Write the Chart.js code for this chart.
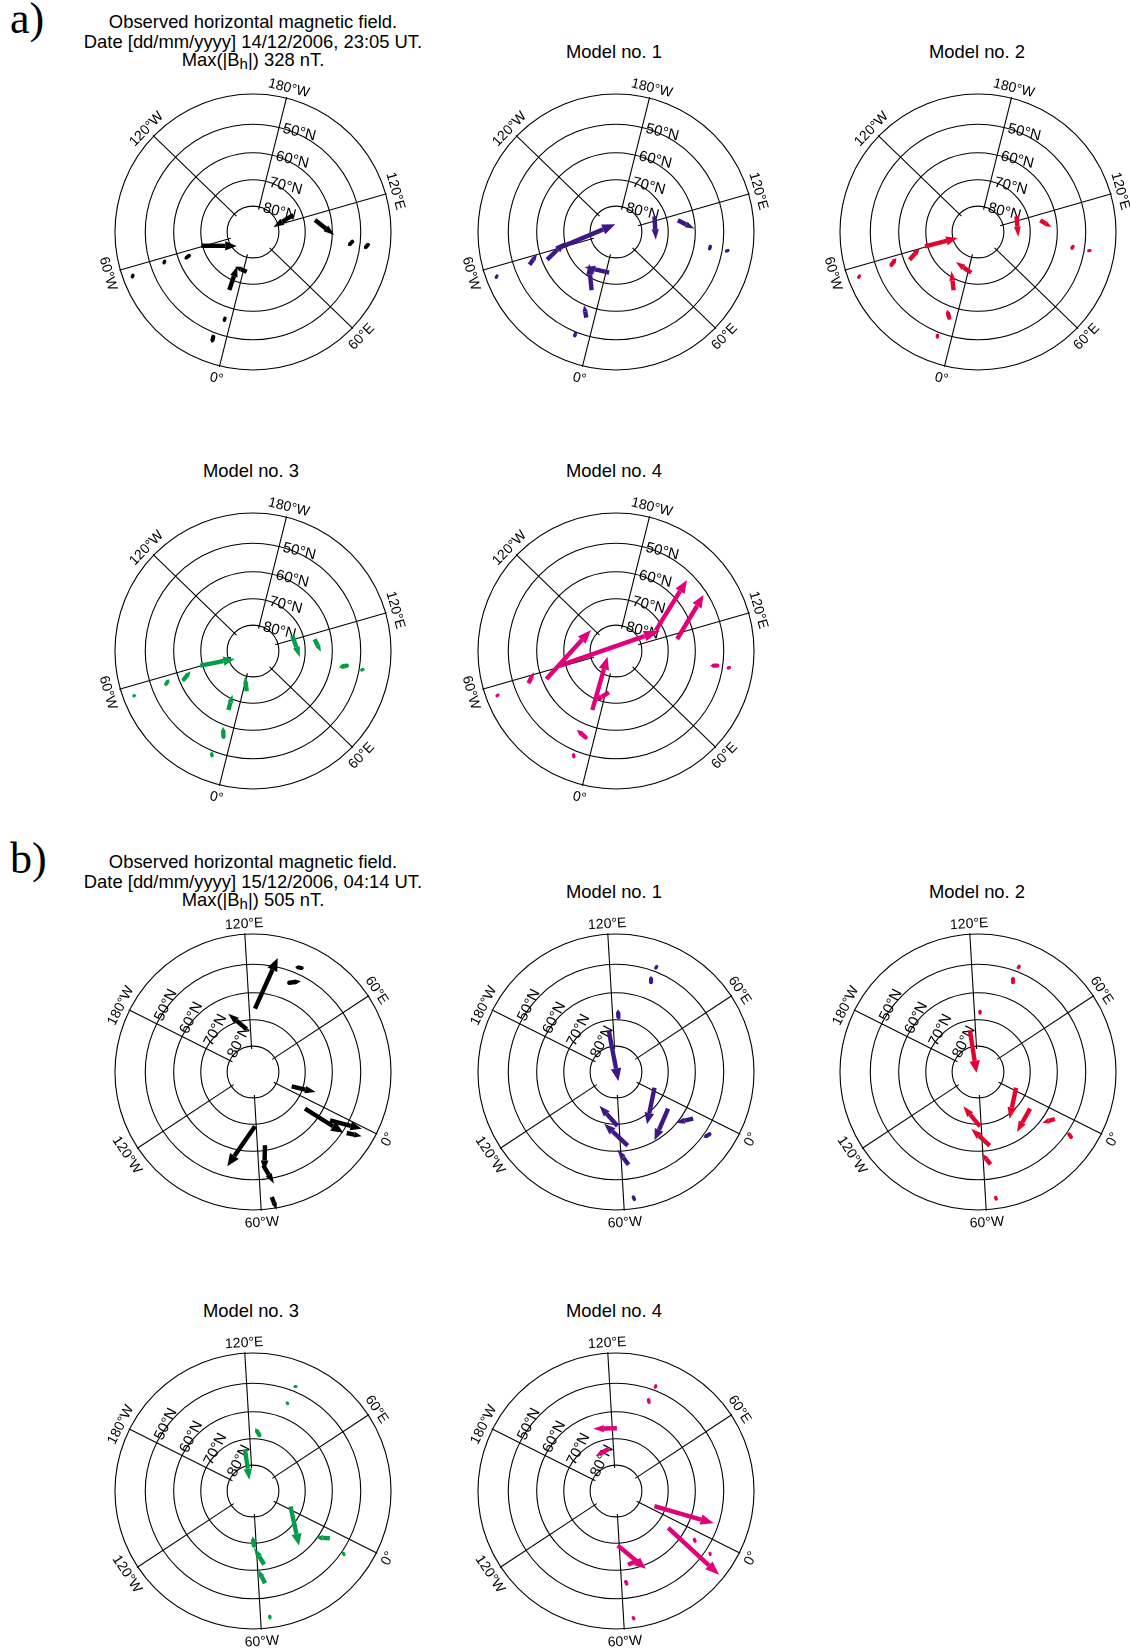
<!DOCTYPE html>
<html>
<head>
<meta charset="utf-8">
<script src="https://cdn.jsdelivr.net/npm/chart.js@4"></script>
<style>
  html, body { margin: 0; padding: 0; background: #fff; }
  body { position: relative; width: 1130px; height: 1650px; overflow: hidden; font-family: "Liberation Sans", sans-serif; color: #000; }
  canvas { position: absolute; }
  .title { position: absolute; transform: translate(-50%, -50%); white-space: nowrap; font-size: 18.4px; line-height: 19px; }
  .title sub { font-size: 15px; line-height: 0; position: relative; top: 3px; vertical-align: baseline; }
  .tag { position: absolute; font-family: "Liberation Serif", serif; font-size: 44px; line-height: 44px; }
</style>
</head>
<body>
<script>
// map units: stereographic north polar map, 138 units out to the 40N ring, y pointing up
// every arrow is [tailX, tailY, headX, headY]

const latRings = [80, 70, 60, 50, 40];
const latLabels = ['80°N', '70°N', '60°N', '50°N'];
const lonValues = [0, 60, 120, 180, -120, -60];
const lonLabels = ['0°', '60°E', '120°E', '180°W', '120°W', '60°W'];

const eventA = ['Observed horizontal magnetic field.', 'Date [dd/mm/yyyy] 14/12/2006, 23:05 UT.', '328 nT.'];
const eventB = ['Observed horizontal magnetic field.', 'Date [dd/mm/yyyy] 15/12/2006, 04:14 UT.', '505 nT.'];

const obsA = [
  [-51.7, -13.7, -16.3, -14], [-23.7, -58, -15.7, -34], [-6.3, -39.7, -18, -34.7], [40.3, 17, 20.3, 4.7],
  [62, 12, 81.3, -3], [99.3, -9.7, 95, -14], [115, -12.7, 111, -17], [-64, -23.7, -68.7, -27.3],
  [-88.3, -29.3, -89.7, -32.3], [-120, -43.3, -121.3, -46.3], [-28, -86.3, -29.3, -90], [-39.7, -104.7, -41.3, -111.3]
];
const model1A = [
  [-54.8, -15, -0.7, 7.7], [-68.9, -27.7, -50.6, -10], [-86.5, -32.7, -79, -22.3], [-119, -44, -120.5, -46.5],
  [-24.4, -58.3, -27, -31.7], [-6.8, -40.7, -31.5, -35], [-29.7, -85.7, -31.9, -73.3], [-40.5, -101.5, -41.8, -105.5],
  [38.5, 15.7, 39.8, -7.7], [61.8, 11.7, 78.5, 3.3], [94.3, -14.5, 93, -18.5], [112, -18.5, 109, -19.5]
];
const model2A = [
  [-53, -14.3, -20.5, -6], [-68.4, -27.7, -57.9, -15.7], [-86.5, -32.7, -81.6, -26], [-118.5, -44, -120, -46.5],
  [-24.4, -58.3, -26.6, -39], [-6.8, -40.7, -22.2, -30], [-28.8, -85.7, -31, -77.7], [-40.7, -105, -40.3, -101.7],
  [38.5, 15.7, 40.3, -5], [62.3, 11.7, 73.3, 5], [95, -14.5, 93, -17.5], [112, -18.5, 109.5, -19]
];
const model3A = [
  [-52.7, -14.7, -18.3, -8], [-69.2, -28.3, -62.5, -20.3], [-87, -33, -83.9, -28.3], [-118.5, -44.5, -120, -45.5],
  [-24.6, -59, -20.5, -43.7], [-6.3, -40.3, -8, -25.7], [-29.5, -85.7, -29.9, -75.7], [-41, -104.7, -41.5, -101.3],
  [39.3, 15.3, 46.9, -6.3], [61.6, 11.7, 67.9, -0.7], [93.8, -14.7, 85.7, -16.3], [110, -18.5, 107.5, -19.5]
];
const model4A = [
  [-56.3, -14.7, 44.2, 20.3], [-69.6, -28, -25, 21], [-87.5, -32.3, -82.1, -21.3], [-118, -44, -120, -45.5],
  [-23.7, -59, -8.5, -5.7], [-7.1, -41.3, -21.9, -50.3], [-30.4, -86.3, -39.3, -78.7], [-42, -105.7, -42.9, -102.3],
  [39.7, 20.3, 71, 71], [61.2, 12, 87.5, 56], [101.3, -14.7, 94.2, -14.7], [113.5, -16.5, 111, -17.5]
];
const obsB = [
  [2, 63.3, 24.7, 114], [48.7, 104, 42, 105], [36.3, 89.3, 48, 90.7], [-6.3, 42.7, -24.7, 58.3],
  [38.7, -14.3, 62.7, -20], [52, -36.7, 90.3, -60.7], [77, -48.3, 108.7, -56.7], [93.7, -61, 108.7, -64.3],
  [2, -54.3, -25.7, -94.3], [12, -73.3, 11.3, -99.3], [10.3, -93.3, 21, -111.7], [18.7, -125, 23.7, -137.7]
];
const model1B = [
  [-7.3, 41.7, 2.4, -9], [2.4, 55, 2, 62.7], [35, 89.7, 35, 96.3], [39.8, 104, 41.6, 106.7],
  [38.5, -15.7, 31, -52.3], [52.1, -36.7, 38.5, -68.3], [77.2, -46.7, 59.6, -50.7], [93.5, -62.3, 87.3, -65.7],
  [1.5, -54, -16.5, -33.7], [11.7, -73.7, -11.7, -51.7], [12.5, -92.7, 1.5, -77.7], [18.3, -127.3, 16.5, -123.3]
];
const model2B = [
  [-8.1, 41.7, -1.5, -0.7], [2, 59, 2, 62.3], [35, 89.7, 35, 95.7], [40.3, 104.3, 42, 107],
  [38.1, -15.7, 31.5, -46.7], [52.1, -36.7, 38.9, -60], [76.8, -47, 64.5, -50.7], [93.1, -65, 89.5, -60.3],
  [2, -54.3, -14.7, -34.3], [11.7, -73.7, -6.8, -56.7], [12.5, -92.3, 4.2, -81.7], [18.3, -127, 16.9, -124]
];
const model3B = [
  [-8, 41.2, -3.6, 11.2], [6.3, 56, 2.2, 63], [34.8, 87.4, 33.5, 88.8], [43, 104.5, 41, 104.5],
  [37.5, -15.5, 46, -54.5], [76.8, -47.2, 62.5, -46.5], [91, -63.5, 89.7, -61.2],
  [0.9, -54.5, -0.4, -45.2], [11.2, -73.5, 0.9, -56.8], [12, -92.2, 5.4, -78.8], [17, -126.8, 16.5, -123.8]
];
const model4B = [
  [0.9, 62.8, -22.8, 62.2], [-7.1, 42.2, -20.5, 34.8], [33, 88.8, 32.1, 93.2], [39.3, 103.8, 40.2, 106.5],
  [38.4, -15.2, 97.8, -32.2], [52.2, -36.8, 103.1, -83.8], [79, -50.2, 77.7, -46.8], [94.2, -63.5, 93.8, -61.2],
  [1.8, -54.5, 29.9, -77.8], [12, -73.8, 25.4, -67.8], [10.7, -92.8, 8.9, -88.8], [17.9, -127.8, 16.5, -125.5]
];

const black = '#000000', purple = '#3d1786', red = '#e4032e', green = '#009e47', magenta = '#e2007a';
const rotA = 194, rotB = 116.6;
const half = 175;

// stereographic radius of a latitude circle, in map units
function ringRadius(lat) {
  return 296 * Math.tan((90 - lat) / 2 * Math.PI / 180);
}

const polarGrid = {
  id: 'polarGrid',
  beforeDatasetsDraw(chart, args, opts) {
    const { ctx, scales: { x, y } } = chart;
    const cx = x.getPixelForValue(0), cy = y.getPixelForValue(0);
    const unit = x.getPixelForValue(1) - cx;
    ctx.save();
    ctx.strokeStyle = '#000';
    ctx.lineWidth = 1.1;
    latRings.forEach(lat => {
      ctx.beginPath();
      ctx.arc(cx, cy, ringRadius(lat) * unit, 0, Math.PI * 2);
      ctx.stroke();
    });
    lonValues.forEach(lon => {
      const a = (opts.rotation - lon) * Math.PI / 180;
      ctx.beginPath();
      ctx.moveTo(x.getPixelForValue(23 * Math.sin(a)), y.getPixelForValue(23 * Math.cos(a)));
      ctx.lineTo(x.getPixelForValue(139 * Math.sin(a)), y.getPixelForValue(139 * Math.cos(a)));
      ctx.stroke();
    });
    ctx.restore();
  },
  afterDatasetsDraw(chart, args, opts) {
    const { ctx, scales: { x, y } } = chart;
    ctx.save();
    ctx.fillStyle = '#000';
    ctx.font = '14px "Liberation Sans"';
    ctx.textBaseline = 'middle';
    lonValues.forEach((lon, i) => {
      let deg = ((opts.rotation - lon) % 360 + 360) % 360;
      if (deg > 180) deg -= 360;
      const upper = Math.abs(deg) <= 90;
      const a = deg * Math.PI / 180;
      const r = upper ? 148 : 151;
      ctx.save();
      ctx.translate(x.getPixelForValue(r * Math.sin(a)), y.getPixelForValue(r * Math.cos(a)));
      ctx.rotate(upper ? a : a - Math.PI);
      ctx.textAlign = 'center';
      ctx.fillText(lonLabels[i], 0, 0);
      ctx.restore();
    });
    // latitude labels run along the 180 meridian
    const a = (opts.rotation - 180) * Math.PI / 180;
    ctx.font = '15px "Liberation Sans"';
    latLabels.forEach((label, i) => {
      const r = ringRadius(latRings[i]);
      ctx.save();
      ctx.translate(x.getPixelForValue(r * Math.sin(a)), y.getPixelForValue(r * Math.cos(a)));
      ctx.rotate(a);
      ctx.textAlign = 'left';
      ctx.fillText(label, 4, 0);
      ctx.restore();
    });
    ctx.restore();
  }
};

// shaft plus head for each two point dataset, using the points the scales placed
const arrowShapes = {
  id: 'arrowShapes',
  afterDatasetsDraw(chart) {
    const ctx = chart.ctx;
    chart.data.datasets.forEach((ds, i) => {
      const pts = chart.getDatasetMeta(i).data;
      const dx = pts[1].x - pts[0].x, dy = pts[1].y - pts[0].y;
      const len = Math.hypot(dx, dy);
      const shaft = Math.min(4.4, 2.6 + len * 0.22);
      const headLen = Math.min(len * 0.5, 9 + len * 0.07);
      // short arrows are almost plain stubs, the head only opens up with length
      const headW = shaft * (1 + Math.max(0, Math.min(1.4, (len - 8) / 24)));
      const ux = dx / len, uy = dy / len;
      const bx = pts[1].x - ux * headLen, by = pts[1].y - uy * headLen;
      ctx.save();
      ctx.strokeStyle = ds.arrowColor;
      ctx.fillStyle = ds.arrowColor;
      ctx.lineWidth = shaft;
      ctx.lineCap = len < 12 ? 'round' : 'butt';
      ctx.beginPath();
      ctx.moveTo(pts[0].x, pts[0].y);
      ctx.lineTo(bx, by);
      ctx.stroke();
      ctx.beginPath();
      ctx.moveTo(pts[1].x, pts[1].y);
      ctx.lineTo(bx - uy * headW / 2, by + ux * headW / 2);
      ctx.lineTo(bx + uy * headW / 2, by - ux * headW / 2);
      ctx.closePath();
      ctx.fill();
      ctx.restore();
    });
  }
};

function addPanel(cx, cy, arrows, color, rotation) {
  const canvas = document.createElement('canvas');
  canvas.width = half * 2;
  canvas.height = half * 2;
  canvas.style.left = (cx - half) + 'px';
  canvas.style.top = (cy - half) + 'px';
  canvas.style.width = half * 2 + 'px';
  canvas.style.height = half * 2 + 'px';
  document.body.appendChild(canvas);

  new Chart(canvas, {
    type: 'scatter',
    data: {
      datasets: arrows.map(a => ({
        data: [{ x: a[0], y: a[1] }, { x: a[2], y: a[3] }],
        arrowColor: color,
        pointRadius: 0,
        showLine: false
      }))
    },
    options: {
      responsive: false,
      animation: false,
      layout: { padding: 0 },
      scales: {
        x: { display: false, min: -half, max: half },
        y: { display: false, min: -half, max: half }
      },
      plugins: {
        legend: { display: false },
        tooltip: { enabled: false },
        polarGrid: { rotation: rotation }
      }
    },
    plugins: [polarGrid, arrowShapes]
  });
}

function addTitle(x, y, html) {
  const el = document.createElement('div');
  el.className = 'title';
  el.style.left = x + 'px';
  el.style.top = y + 'px';
  el.innerHTML = html;
  document.body.appendChild(el);
}

function addTag(x, y, text) {
  const el = document.createElement('div');
  el.className = 'tag';
  el.style.left = x + 'px';
  el.style.top = y + 'px';
  el.textContent = text;
  document.body.appendChild(el);
}

function addBlock(tag, lines, top, arrows, rot) {
  addTag(10, top - 3, tag);
  addTitle(253, top + 21, lines[0]);
  addTitle(253, top + 41, lines[1]);
  addTitle(253, top + 59, 'Max(|B<sub>h</sub>|) ' + lines[2]);
  addTitle(614, top + 51, 'Model no. 1');
  addTitle(977, top + 51, 'Model no. 2');
  addTitle(251, top + 470, 'Model no. 3');
  addTitle(614, top + 470, 'Model no. 4');
  addPanel(253, top + 232, arrows[0], black, rot);
  addPanel(616, top + 232, arrows[1], purple, rot);
  addPanel(978.4, top + 232, arrows[2], red, rot);
  addPanel(253, top + 650.5, arrows[3], green, rot);
  addPanel(616, top + 650.5, arrows[4], magenta, rot);
}

addBlock('a)', eventA, 0, [obsA, model1A, model2A, model3A, model4A], rotA);
addBlock('b)', eventB, 840, [obsB, model1B, model2B, model3B, model4B], rotB);
</script>
</body>
</html>
